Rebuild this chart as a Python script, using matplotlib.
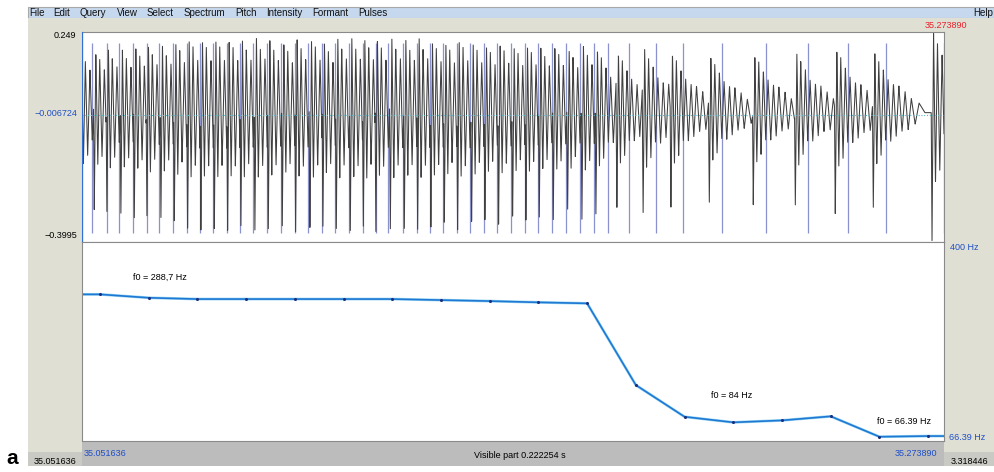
import numpy as np
import matplotlib
matplotlib.use("Agg")
import matplotlib.pyplot as plt
from matplotlib.patches import Rectangle

plt.rcParams['font.family'] = ['Liberation Sans', 'DejaVu Sans']

# visible window (s) and amplitude range
t_start, t_end = 35.051636, 35.273890
amp_top, amp_mid, amp_bot = 0.249, -0.006724, -0.3995

# glottal pulses (s)
pulse_times = [35.05429, 35.05800, 35.06125, 35.06486, 35.06832, 35.07157, 35.07518,
               35.07863, 35.08206, 35.08549, 35.08895, 35.09238, 35.09580, 35.09941,
               35.10287, 35.10648, 35.10991, 35.11360, 35.11695, 35.12040, 35.12401,
               35.12736, 35.13061, 35.13433, 35.13794, 35.14137, 35.14479, 35.14825,
               35.15168, 35.15529, 35.15872, 35.16225, 35.16586, 35.16929, 35.17274,
               35.17635, 35.18004, 35.18373, 35.18734, 35.19275, 35.19951, 35.20668,
               35.21658, 35.22792, 35.23875, 35.24906, 35.25886, 35.27400]
# relative strength of each period
pulse_amps = [0.8, 0.82, 0.85, 0.85, 0.88, 0.9, 0.9, 0.95, 1.0, 1.0, 1.0, 1.0, 0.98, 1.0,
              0.98, 0.95, 1.0, 1.0, 0.95, 1.0, 1.0, 1.0,
              1.0, 1.0, 0.98, 1.0, 0.98, 0.95, 1.0, 0.95, 0.92, 0.95, 0.9, 0.92, 0.88,
              0.9, 0.85, 0.9, 0.85,
              0.8, 0.85, 0.8, 0.75, 0.78, 0.8, 0.85, 0.8, 1.08]
# one period of the waveform (ms after excitation, normalised value)
shape_ms = [0.0, 0.2, 0.6, 1.1, 1.6, 2.2, 2.8, 3.4, 4.0, 4.7, 5.4, 6.1, 6.8, 7.6,
            8.4, 9.2, 10.0, 11.0, 12.0, 13.5]
shape_val = [0.0, -1.0, 0.62, -0.55, 0.55, -0.45, 0.45, -0.3, 0.35, -0.3, 0.3, -0.25,
             0.28, -0.2, 0.22, -0.18, 0.15, -0.12, 0.1, 0.0]
lead = 0.0034  # excitation comes this long before each pulse mark

# pitch track
f0_times = [35.05628, 35.06884, 35.08140, 35.09396, 35.10652, 35.11908, 35.13164,
            35.14420, 35.15676, 35.16932, 35.18188, 35.19444, 35.20700, 35.21956,
            35.23212, 35.24468, 35.25724, 35.26980]
f0_hz = [291.4, 286.0, 284.0, 284.0, 284.0, 284.0, 284.0, 282.4, 280.8, 278.8, 277.2,
         148.3, 98.3, 89.5, 92.6, 99.0, 66.8, 67.9]
f0_lo, f0_hi = 60.1, 374.0

menu_items = ["File", "Edit", "Query", "View", "Select", "Spectrum", "Pitch",
              "Intensity", "Formant", "Pulses"]
menu_x = [29, 53, 80, 117, 147, 184, 235, 266, 312, 358]

W, H = 994, 472
fig = plt.figure(figsize=(W / 100, H / 100), dpi=100)
fig.patch.set_facecolor('white')


def frect(x0, y0, x1, y1):
    return [x0 / W, 1 - y1 / H, (x1 - x0) / W, (y1 - y0) / H]


def box(x0, y0, x1, y1, color, ec='none'):
    r = frect(x0, y0, x1, y1)
    fig.add_artist(Rectangle((r[0], r[1]), r[2], r[3], transform=fig.transFigure,
                             facecolor=color, edgecolor=ec, lw=0.8, zorder=0))


def ftext(x, y, s, **kw):
    kw.setdefault('fontsize', 6.5)
    kw.setdefault('va', 'center')
    fig.text(x / W, 1 - y / H, s, **kw)


beige = '#dfe0d3'
box(28, 7, 994, 18, '#c6d8ee', ec='#a9a9a9')
box(28, 18, 994, 452, beige)
box(82, 441, 944, 466, '#bcbcbc')
box(28, 452, 82, 466, '#c9cac4')
box(944, 452, 994, 466, '#c9cac4')

for name, x in zip(menu_items, menu_x):
    ftext(x, 12.5, name, fontsize=7, color='#111111')
ftext(993, 12.5, "Help", fontsize=7, ha='right', color='#111111')

# waveform panel
ax_w = fig.add_axes(frect(82, 32, 944, 242))
t = np.linspace(t_start, t_end, 9000)
wave = np.zeros_like(t)
starts = np.array(pulse_times) - lead
for k in range(len(starts)):
    nxt = starts[k + 1] if k + 1 < len(starts) else t_end + 1
    m = (t >= starts[k]) & (t < nxt)
    wave[m] = 0.37 * pulse_amps[k] * np.interp((t[m] - starts[k]) * 1000,
                                               shape_ms, shape_val, right=0.0)
ax_w.vlines(pulse_times, -0.372, 0.215, color='#7077c2', lw=0.9, alpha=0.8, zorder=1)
ax_w.plot(t, wave, color='#404040', lw=0.75, zorder=2)
ax_w.axhline(amp_mid, color='#5ab6c4', lw=0.8, ls=(0, (1, 1.5)), zorder=3)
ax_w.axvline(t_start, color='#2f6fd6', lw=1.6, zorder=4)
ax_w.set_xlim(t_start, t_end)
ax_w.set_ylim(amp_bot, amp_top)

# pitch panel
ax_p = fig.add_axes(frect(82, 242, 944, 441))
ft = [t_start] + f0_times + [t_end]
fv = [f0_hz[0]] + f0_hz + [f0_hz[-1]]
ax_p.plot(ft, fv, color='#9bd8f2', lw=2.0, zorder=1)
ax_p.plot(ft, fv, color='#1f78d4', lw=1.2, zorder=2)
ax_p.plot(f0_times, f0_hz, ls='none', marker='o', ms=1.2, color='#1a2f80', zorder=3)
ax_p.set_xlim(t_start, t_end)
ax_p.set_ylim(f0_lo, f0_hi)

for ax in (ax_w, ax_p):
    ax.set_xticks([])
    ax.set_yticks([])
    for s in ax.spines.values():
        s.set_color('#8a8a8a')
        s.set_linewidth(0.8)

blue = '#1f4fc8'
ftext(76, 36, "0.249", ha='right')
ftext(77, 114, "\u22120.006724", ha='right', color=blue)
ftext(77, 236, "\u22120.3995", ha='right')
ftext(946, 26, "35.273890", ha='center', color='#e8202a')
ftext(950, 247, "400 Hz", color=blue)
ftext(949, 437, "66.39 Hz", color=blue)
ftext(133, 277, "f0 = 288,7 Hz")
ftext(711, 396, "f0 = 84 Hz")
ftext(877, 422, "f0 = 66.39 Hz")
ftext(84, 453, "35.051636", color=blue)
ftext(520, 456, "Visible part 0.222254 s", ha='center')
ftext(937, 453, "35.273890", ha='right', color=blue)
ftext(55, 461, "35.051636", ha='center')
ftext(969, 462, "3.318446", ha='center')
ftext(12, 459, "a", ha='center', fontsize=15, fontweight='bold')

fig.savefig("out.png", dpi=100)
